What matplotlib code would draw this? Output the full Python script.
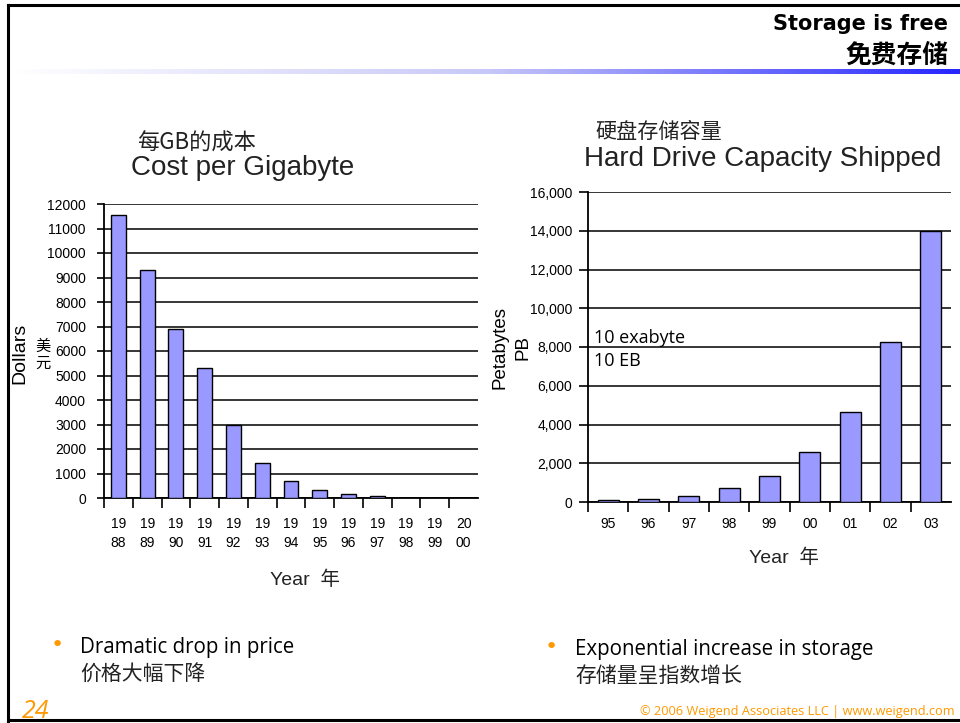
import matplotlib
matplotlib.use('Agg')
import matplotlib.pyplot as plt
import numpy as np
from matplotlib.lines import Line2D
from matplotlib.colors import LinearSegmentedColormap

# ---------------- data ----------------
cost_labels = ['19\n88', '19\n89', '19\n90', '19\n91', '19\n92', '19\n93', '19\n94',
               '19\n95', '19\n96', '19\n97', '19\n98', '19\n99', '20\n00']
cost_values = [11560, 9310, 6890, 5300, 3000, 1420, 700, 320, 160, 80, 0, 0, 0]
cost_yticks = [0, 1000, 2000, 3000, 4000, 5000, 6000, 7000, 8000, 9000, 10000, 11000, 12000]

cap_labels = ['95', '96', '97', '98', '99', '00', '01', '02', '03']
cap_values = [85, 170, 320, 730, 1340, 2580, 4660, 8260, 14000]
cap_yticks = [0, 2000, 4000, 6000, 8000, 10000, 12000, 14000, 16000]

W, H = 960, 723
fig = plt.figure(figsize=(9.6, 7.23), dpi=100)
fig.patch.set_facecolor('white')

def fx(x):
    return x / W

def fy(y):
    return 1 - y / H

CJK = ['Noto Sans CJK SC', 'DejaVu Sans']
ARIAL = ['Liberation Sans', 'Noto Sans CJK SC']
OPEN = ['Open Sans', 'Noto Sans CJK SC']
BAR = '#9999ff'
ORANGE = '#ff9900'

def make_axes(left, top, right, bottom):
    return fig.add_axes([fx(left), fy(bottom), (right - left) / W, (bottom - top) / H])

def style_bar_axes(ax, labels, values, yticks, ytick_fmt, ylen, ypad, xpad):
    n = len(labels)
    ax.bar(np.arange(n), values, width=0.52, color=BAR, edgecolor='black', linewidth=1.0, zorder=3)
    ax.set_xlim(-0.5, n - 0.5)
    ax.set_ylim(yticks[0], yticks[-1])
    ax.set_yticks(yticks)
    ax.set_yticklabels([ytick_fmt(v) for v in yticks], fontfamily=ARIAL, fontsize=10)
    ax.set_xticks(np.arange(-0.5, n - 1, 1))
    ax.set_xticklabels([])
    ax.set_xticks(np.arange(n), minor=True)
    ax.set_xticklabels(labels, minor=True, fontfamily=ARIAL, fontsize=10, linespacing=1.45)
    ax.tick_params(axis='x', which='major', direction='out', length=7.5, width=1.2, color='black')
    ax.tick_params(axis='x', which='minor', length=0, pad=xpad)
    ax.tick_params(axis='y', direction='out', length=ylen, width=1.2, pad=ypad)
    for s in ['top', 'right']:
        ax.spines[s].set_visible(False)
    for s in ['left', 'bottom']:
        ax.spines[s].set_linewidth(1.3)
        ax.spines[s].set_color('black')
    ax.yaxis.grid(True, color='black', linewidth=1.1)
    ax.set_axisbelow(True)
    ax.set_facecolor('white')

# ---------------- left chart ----------------
ax1 = make_axes(104, 204, 478, 498)
style_bar_axes(ax1, cost_labels, cost_values, cost_yticks, lambda v: f'{v}', 5, 8, 14)

fig.text(fx(137), fy(143), '每GB的成本', fontfamily=CJK, fontsize=16, ha='left', va='center', color='#222222')
fig.text(fx(243), fy(168), 'Cost per Gigabyte', fontfamily=ARIAL, fontsize=20, ha='center', va='center', color='#222222')
fig.text(fx(20), fy(353), 'Dollars', fontfamily=ARIAL, fontsize=14, rotation=90, ha='center', va='center')
fig.text(fx(43), fy(355), '美\n元', fontfamily=CJK, fontsize=11, ha='center', va='center', linespacing=0.95)
fig.text(fx(305), fy(580), 'Year  年', fontfamily=ARIAL, fontsize=14, ha='center', va='center', color='#222222')

# ---------------- right chart ----------------
ax2 = make_axes(588, 192, 951, 502)
style_bar_axes(ax2, cap_labels, cap_values, cap_yticks, lambda v: f'{v:,}', 6.5, 5, 11)

fig.text(fx(595), fy(132), '硬盘存储容量', fontfamily=CJK, fontsize=15.2, ha='left', va='center', color='#222222')
fig.text(fx(763), fy(159), 'Hard Drive Capacity Shipped', fontfamily=ARIAL, fontsize=20, ha='center', va='center', color='#222222')
fig.text(fx(500), fy(347), 'Petabytes', fontfamily=ARIAL, fontsize=13.5, rotation=90, ha='center', va='center')
fig.text(fx(523), fy(347), 'PB', fontfamily=ARIAL, fontsize=13.5, rotation=90, ha='center', va='center')
fig.text(fx(594), fy(338), '10 exabyte', fontfamily=OPEN, fontsize=13, ha='left', va='center')
fig.text(fx(594), fy(361), '10 EB', fontfamily=OPEN, fontsize=13, ha='left', va='center')
fig.text(fx(784), fy(558), 'Year  年', fontfamily=ARIAL, fontsize=14, ha='center', va='center', color='#222222')

# ---------------- header ----------------
fig.text(fx(948), fy(24), 'Storage is free', fontfamily=['DejaVu Sans'], fontsize=15,
         weight='bold', ha='right', va='center')
fig.text(fx(948), fy(55), '免费存储', fontfamily=CJK, fontsize=18.5, weight='bold', ha='right', va='center')

axg = fig.add_axes([fx(12), fy(74), (960 - 12) / W, 5 / H])
cmap = LinearSegmentedColormap.from_list('g', ['#ffffff', '#c8c8f8', '#2626ff'])
axg.imshow(np.linspace(0, 1, 512)[None, :], aspect='auto', cmap=cmap, extent=[0, 1, 0, 1])
axg.set_axis_off()

# ---------------- slide frame ----------------
for (x0, y0, x1, y1) in [(8, 5, 8, 721), (8, 5, 960, 5), (8, 720, 960, 720)]:
    fig.add_artist(Line2D([fx(x0), fx(x1)], [fy(y0), fy(y1)], color='black', linewidth=2.2,
                          transform=fig.transFigure))

# ---------------- bullets ----------------
fig.text(fx(57), fy(645), '•', color=ORANGE, fontsize=16, ha='center', va='center')
fig.text(fx(80), fy(647), 'Dramatic drop in price', fontfamily=OPEN, fontsize=14.8,
         ha='left', va='center')
fig.text(fx(80), fy(675), '价格大幅下降', fontfamily=CJK, fontsize=15, ha='left', va='center', color='#222222')

fig.text(fx(551), fy(647), '•', color=ORANGE, fontsize=16, ha='center', va='center')
fig.text(fx(575), fy(649), 'Exponential increase in storage', fontfamily=OPEN,
         fontsize=14.8, ha='left', va='center')
fig.text(fx(575), fy(676), '存储量呈指数增长', fontfamily=CJK, fontsize=15, ha='left', va='center', color='#222222')

# ---------------- footer ----------------
fig.text(fx(22), fy(711), '24', color=ORANGE, fontsize=18, style='italic', ha='left', va='center',
         fontfamily=OPEN)
fig.text(fx(955), fy(712), '© 2006 Weigend Associates LLC | www.weigend.com', color=ORANGE, fontsize=9.2,
         ha='right', va='center', fontfamily=OPEN)

fig.savefig('out.png', dpi=100, facecolor='white')
